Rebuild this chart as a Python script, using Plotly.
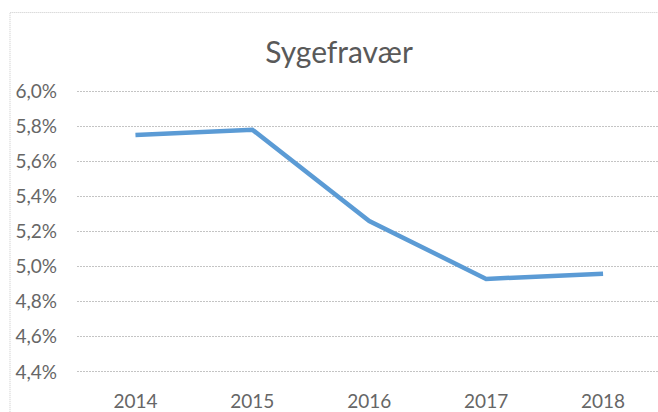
import plotly.graph_objects as go

years = ["2014", "2015", "2016", "2017", "2018"]
sygefravaer = [0.0575, 0.0578, 0.0526, 0.0493, 0.0496]
y_ticks = [0.044, 0.046, 0.048, 0.050, 0.052, 0.054, 0.056, 0.058, 0.060]

W, H = 658, 412
L, R, T, B = 77, 0, 90, 37

fig = go.Figure(go.Scatter(
    x=years, y=sygefravaer, mode="lines",
    line=dict(color="#5B9BD5", width=4.5),
    hoverinfo="skip",
))

# ── chart area border (dotted, clipped right/bottom like the source) ──
pw, ph = W - L - R, H - T - B
fig.add_shape(
    type="rect", xref="paper", yref="paper",
    x0=(10 - L) / pw, x1=(W + 5 - L) / pw,
    y0=-B / ph - 0.05, y1=(H - B - 12) / ph,
    line=dict(color="#C8C8C8", width=1, dash="1px,1px"),
    layer="below",
)

fig.update_layout(
    width=W, height=H,
    margin=dict(l=L, r=R, t=T, b=B),
    paper_bgcolor="white", plot_bgcolor="white",
    separators=",.",
    showlegend=False,
    font=dict(family="Lato, 'Open Sans', sans-serif", color="#595959"),
    title=dict(text="Sygefravær", x=(339 - L) / pw, xref="paper", xanchor="center",
               y=1 - 52 / H, yanchor="middle",
               font=dict(size=30, color="#595959")),
    xaxis=dict(
        type="category", range=[-0.5, 4.47],
        showgrid=False, showline=False, zeroline=False,
        ticks="", ticklabelstandoff=15,
        tickfont=dict(size=19, color="#666666"),
    ),
    yaxis=dict(
        range=[0.04394, 0.06006], tickvals=y_ticks, tickformat=".1%",
        showgrid=True, gridcolor="#C4C4C4", gridwidth=1, griddash="2px,1px",
        showline=False, zeroline=False, ticks="",
        ticklabelstandoff=19,
        tickfont=dict(size=19, color="#666666"),
    ),
)

fig.write_html("out.html", config={"displayModeBar": False},
               post_script="document.body.style.margin='0';")
